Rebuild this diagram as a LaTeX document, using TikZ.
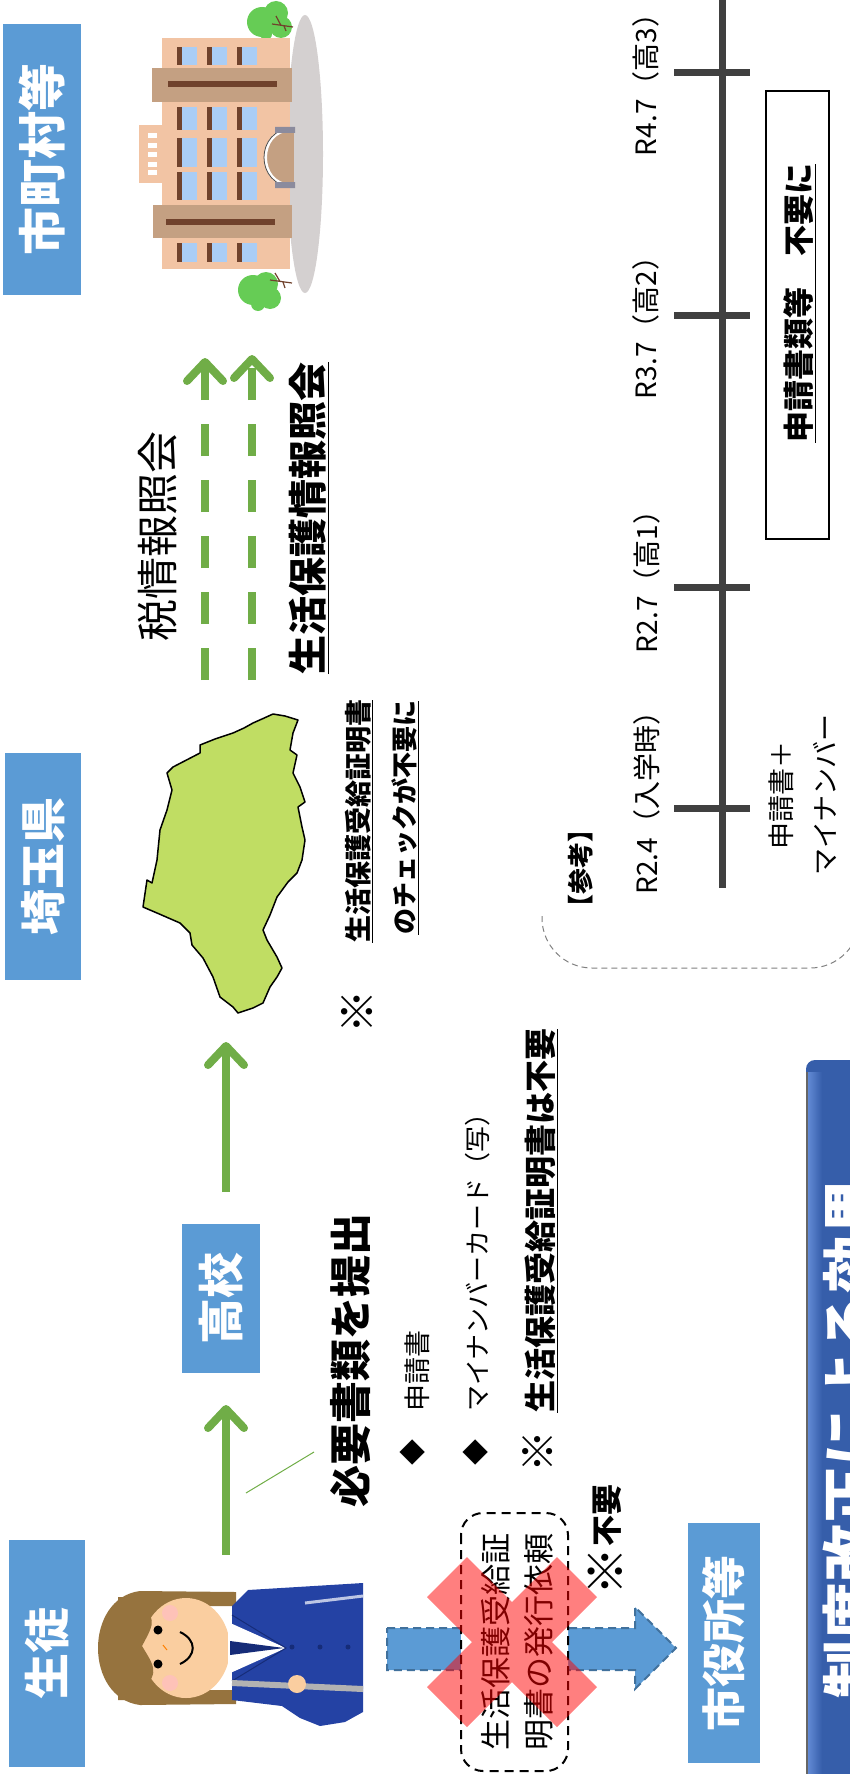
\documentclass[tikz,border=0pt]{standalone}
\usepackage{fontspec}
\setmainfont{Noto Sans CJK JP}
\usetikzlibrary{arrows.meta}
\newcommand\fsz[1]{\fontsize{#1}{#1}\selectfont}
% the reference mark, set about as large as a full-width character
\newcommand\kome{\raisebox{-0.16em}{\scalebox{1.55}{※}}}
\definecolor{lblue}{HTML}{5B9BD5}
\definecolor{agreen}{HTML}{70AD47}
\definecolor{mapgreen}{RGB}{192,221,99}
\definecolor{tline}{HTML}{404040}
\definecolor{bordblue}{HTML}{41719C}
\definecolor{bannerblue}{RGB}{54,94,170}
\definecolor{bannerlight}{RGB}{100,140,215}
\definecolor{peach}{RGB}{242,196,164}
\definecolor{tan}{RGB}{196,160,130}
\definecolor{darkbrown}{RGB}{112,66,44}
\definecolor{winblue}{RGB}{170,205,245}
\definecolor{treegreen}{RGB}{102,204,85}
\definecolor{ground}{RGB}{212,208,208}
\definecolor{hair}{RGB}{150,115,62}
\definecolor{skin}{RGB}{250,206,160}
\definecolor{jacket}{RGB}{36,66,164}
\definecolor{jacketdark}{RGB}{22,44,120}
\begin{document}
\begin{tikzpicture}[x=1pt,y=-1pt,
  lbl/.style={fill=lblue,text=white,rotate=90,inner sep=0},
  txt/.style={rotate=90,inner sep=0},
  garrow/.style={agreen,line width=8pt,-{Straight Barb[length=19pt,width=36pt,round]}},
  tl/.style={tline,line width=7pt}]
\useasboundingbox (0,0) rectangle (850,1774);
\clip (0,0) rectangle (850,1774);

% ---------- label boxes ----------
\node[lbl,minimum width=271,minimum height=78,font=\bfseries\fsz{48}] (shicho) at (42,159.5) {市町村等};
\node[lbl,minimum width=227,minimum height=76,font=\bfseries\fsz{46}] (ken) at (43,866.5) {埼玉県};
\node[lbl,minimum width=149,minimum height=78,font=\bfseries\fsz{46}] (koko) at (221,1298.5) {高校};
\node[lbl,minimum width=227,minimum height=76,font=\bfseries\fsz{46}] (seito) at (47,1653.5) {生徒};
\node[lbl,minimum width=240,minimum height=72,font=\bfseries\fsz{44}] (yakusho) at (724,1643) {市役所等};

% ---------- city hall ----------
\fill[ground] (305,154) ellipse [x radius=18,y radius=139];
\fill[treegreen] (262,22) circle (15) (276,13) circle (12) (281,27) circle (11) (266,34) circle (6);
\draw[darkbrown,line width=1.2] (293,27) -- (272,24) (281,25.5) -- (276,16) (284,26) -- (286,31);
\fill[treegreen] (253,290) circle (15) (266,284) circle (12) (270,298) circle (11) (258,304) circle (7);
\draw[darkbrown,line width=1.2] (292,283) -- (270,280) (280,281.5) -- (275,273) (283,282) -- (285,288);
\fill[peach] (162,38) rectangle (290,269);
\fill[peach] (139,125) rectangle (162,183);
\foreach \y in {133,143,152,162,170} \fill[white] (148,\y) rectangle (157,\y+5);
\fill[tan] (152,68) rectangle (292,102);
\fill[tan] (153,205) rectangle (292,238);
\fill[darkbrown] (168,81) rectangle (277,87);
\fill[darkbrown] (166,219) rectangle (275,225);
\foreach \x in {177,207,237}{
  \foreach \ya/\yb in {47/65,107/130,138/167,172/200,243/262}{
    \fill[winblue] (\x,\ya) rectangle (\x+20,\yb);
    \fill[darkbrown] (\x,\ya) rectangle (\x+5,\yb);
  }}
\fill[tan] (294,128) .. controls (254,128) and (254,187) .. (294,187) -- cycle;
\draw[white,line width=3] (291,130) .. controls (257,130) and (257,185) .. (291,185);
\draw[black!70,line width=0.8] (294,128) .. controls (254,128) and (254,187) .. (294,187);
\fill[gray!80!blue!60!black!60] (275,127) rectangle (295,133) (275,182) rectangle (295,188);

% ---------- Saitama prefecture ----------
\filldraw[fill=mapgreen,draw=black,line width=1.5pt,line join=round]
  (200,745) -- (215,739) -- (233,733) -- (244,728) -- (253,723) -- (262,719) -- (273,714)
  -- (285,716) -- (298,720) -- (293,733) -- (290,750) -- (297,755) -- (293,773) -- (300,787)
  -- (305,802) -- (298,807) -- (302,827) -- (305,840) -- (302,860) -- (297,873) -- (288,882)
  -- (277,897) -- (270,915) -- (263,930) -- (267,940) -- (277,957) -- (282,968) -- (277,977)
  -- (270,987) -- (263,1003) -- (253,1008) -- (238,1013) -- (233,1007) -- (220,997)
  -- (213,977) -- (203,958) -- (192,945) -- (190,933) -- (180,923) -- (157,913)
  -- (143,907) -- (147,880) -- (152,883) -- (157,860) -- (160,830) -- (167,810)
  -- (172,790) -- (167,773) -- (173,767) -- (200,753) -- cycle;

% ---------- student ----------
\fill[hair] (236,1592) -- (140,1591) .. controls (84,1598) and (84,1698) .. (140,1705) -- (236,1704) -- (236,1690) -- (200,1690) -- (200,1606) -- (236,1606) -- cycle;
\fill[skin] (186,1648) ellipse [x radius=44,y radius=50];
\fill[hair] (136,1597) .. controls (156,1620) .. (142,1646) .. controls (158,1672) .. (136,1700) -- (118,1700) -- (118,1597) -- cycle;
\fill[pink,opacity=0.8] (170,1613) circle (8) (170,1683) circle (8);
\fill[black] (158,1630) circle (4.5) (158,1664) circle (4.5);
\draw[black,line width=2] (180,1632) .. controls (197,1640) and (197,1656) .. (180,1664);
\draw[orange,line width=1] (163,1645) -- (167,1650);
\fill[jacket] (232,1606) -- (248,1590) -- (363,1583) -- (363,1712) -- (345,1722) -- (320,1726)
  -- (300,1718) -- (282,1706) -- (232,1700) -- cycle;
\fill[white] (228,1622) -- (286,1648) -- (228,1674) -- cycle;
\fill[jacketdark] (230,1641) -- (284,1648) -- (230,1655) -- cycle;
\draw[jacketdark,line width=1] (232,1615) -- (286,1648) -- (232,1681);
\draw[white!70!jacket,line width=3] (305,1603) -- (363,1596);
\fill[jacketdark] (292,1647) circle (2.5) (320,1647) circle (2.5) (348,1647) circle (2.5);
\draw[gray!60,line width=6] (232,1683) -- (363,1689);
\fill[skin] (297,1684) circle (9);

% ---------- flow arrows ----------
\coordinate (s1) at (226,1555); \coordinate (t1) at (226,1405);
\draw[garrow] (s1) -- (t1);
\coordinate (s2) at (226,1192); \coordinate (t2) at (226,1042);
\draw[garrow] (s2) -- (t2);
\coordinate (s3) at (205,680); \coordinate (t3) at (205,358);
\coordinate (s4) at (252,680); \coordinate (t4) at (252,355);
\draw[garrow,dash pattern=on 32pt off 24pt] (s3) -- (t3);
\draw[garrow,dash pattern=on 32pt off 24pt] (s4) -- (t4);
\coordinate (c1) at (246,1493); \coordinate (c2) at (314,1452);
\draw[agreen,line width=1] (c1) -- (c2);

% ---------- texts along the flow ----------
\node[txt,font=\fsz{42}] (zei) at (158,536) {税情報照会};
\node[txt,font=\bfseries\fsz{39}] (seiho) at (309,518) {\underline{生活保護情報照会}};
\node[txt,font=\bfseries\fsz{28}] (kome1) at (357,1012) {\kome};
\node[txt,font=\bfseries\fsz{27},anchor=west] (chk1) at (359,943) {\underline{生活保護受給証明書}};
\node[txt,font=\bfseries\fsz{26},anchor=west] (chk2) at (405,935) {\underline{のチェックが不要に}};
\node[txt,font=\bfseries\fsz{42}] (teishutsu) at (351,1360) {必要書類を提出};
\node[txt,font=\fsz{26}] (dia1) at (413,1452) {◆};
\node[txt,font=\fsz{27},anchor=west] (item1) at (417,1412) {申請書};
\node[txt,font=\fsz{26}] (dia2) at (476,1452) {◆};
\node[txt,font=\fsz{26},anchor=west] (item2) at (478,1412) {マイナンバーカード（写）};
\node[txt,font=\fsz{27}] (kome2) at (538,1452) {\kome};
\node[txt,font=\bfseries\fsz{32},anchor=west] (item3) at (541,1413) {\underline{生活保護受給証明書は不要}};

% ---------- crossed-out request ----------
\draw[bordblue,fill=lblue,line width=2pt,dash pattern=on 8pt off 5pt]
  (387,1628) -- (635,1628) -- (635,1607) -- (676,1648) -- (635,1689) -- (635,1670) -- (387,1670) -- cycle;
\draw[fill=white,line width=2pt,dash pattern=on 9pt off 6pt,rounded corners=22pt] (461,1513) rectangle (568,1771);
\node[txt,align=center,font=\fontsize{31}{43}\selectfont] (irai) at (517,1642) {生活保護受給証\\明書の発行依頼};
\fill[red,opacity=0.5] (597,1687) -- (557,1727) -- (512,1682) -- (467,1727) -- (427,1687) -- (472,1642)
  -- (427,1597) -- (467,1557) -- (512,1602) -- (557,1557) -- (597,1597) -- (552,1642) -- cycle;
\node[txt,font=\bfseries\fsz{31}] (fuyo) at (606,1540) {\kome 不要};

% ---------- reference timeline ----------
\draw[gray,line width=1pt,dash pattern=on 6pt off 4pt,rounded corners=50pt] (542,916) -- (542,968) -- (860,968) -- (860,900);
\coordinate (tl0) at (722,-5); \coordinate (tl1) at (722,888);
\draw[tl] (tl0) -- (tl1);
\foreach \y in {808,587,315,73} \draw[tl] (674,\y) -- (750,\y);
\node[txt,font=\fsz{28}] (d1) at (647,796) {R2.4（入学時）};
\node[txt,font=\fsz{28}] (d2) at (647,575) {R2.7（高1）};
\node[txt,font=\fsz{28}] (d3) at (646,321) {R3.7（高2）};
\node[txt,font=\fsz{28}] (d4) at (646,78) {R4.7（高3）};
\node[txt,font=\bfseries\fsz{26}] (sanko) at (581,868) {【参考】};
\node[txt,align=center,font=\fontsize{27}{44}\selectfont] (before) at (803,795) {申請書＋\\マイナンバー};
\node[draw,line width=1.5pt,rotate=90,minimum width=448,minimum height=63,inner sep=0] (afterbox) at (797.5,315) {};
\node[txt,font=\bfseries\fsz{31}] (after) at (800,303) {\underline{申請書類等　不要に}};

% ---------- title banner ----------
\fill[bannerblue,rounded corners=9pt] (806,1060) rectangle (920,1800);
\shade[left color=bannerlight,right color=bannerblue] (807,1072) rectangle (822,1774);
\draw[black!60,line width=1.5] (807,1072) -- (807,1774);
\node[txt,text=white,font=\bfseries\fsz{58}] (title) at (851,1438) {制度改正による効果};
\end{tikzpicture}
\end{document}
